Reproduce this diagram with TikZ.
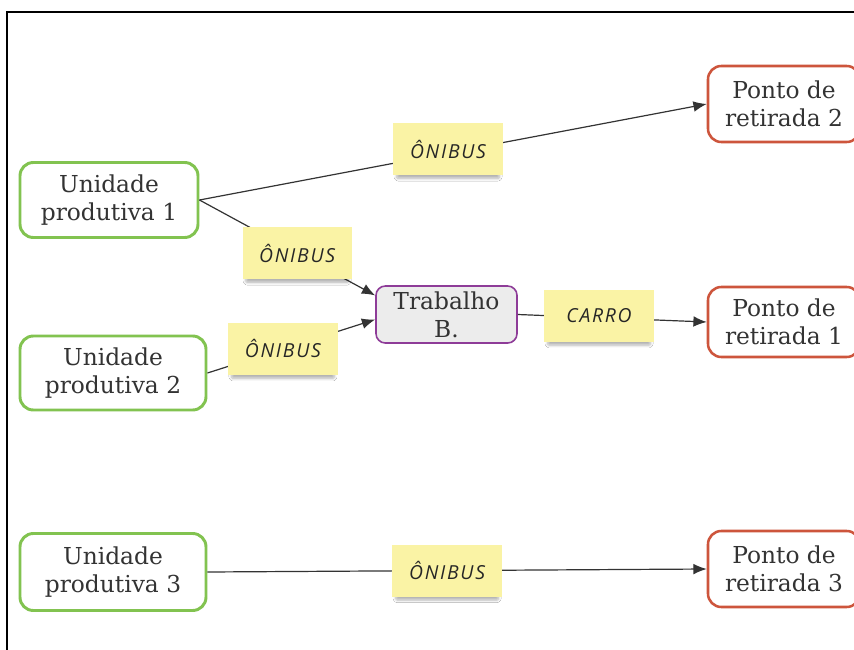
\documentclass[tikz,border=0pt]{standalone}
\usepackage{fontspec}
\setmainfont{DejaVu Serif}
\newfontfamily\notefont{Open Sans}[LetterSpace=9]
\usetikzlibrary{arrows.meta,shadows,shadows.blur}
\definecolor{boxgreen}{HTML}{82C350}
\definecolor{boxred}{HTML}{CD553C}
\definecolor{boxpurple}{HTML}{8E3C98}
\definecolor{trabfill}{HTML}{ECECEC}
\definecolor{notefill}{HTML}{FAF3A5}
\definecolor{txt}{HTML}{333333}
\tikzset{
  box/.style={rectangle, rounded corners=10pt, align=center, text=txt,
    font=\fontsize{17.5}{21}\selectfont, fill=white, inner sep=2pt},
  unit/.style={box, draw=boxgreen, line width=2.2pt},
  ponto/.style={box, draw=boxred, line width=1.9pt, minimum width=114pt},
  trabbox/.style={box, draw=boxpurple, fill=trabfill, line width=1.2pt,
    rounded corners=7pt, minimum width=105.75pt, minimum height=42.75pt},
  note/.style={rectangle, fill=notefill, minimum width=82pt, minimum height=39pt,
    font=\notefont\itshape\fontsize{14.5}{16}\selectfont, text=black!85,
    blur shadow={shadow xshift=0pt, shadow yshift=-4pt, shadow scale=0.94,
      shadow blur steps=6, shadow blur extra rounding=1pt, shadow opacity=30}},
  conn/.style={draw=txt, line width=0.9pt, -{Latex[length=10pt,width=8pt]}},
}
\begin{document}
\begin{tikzpicture}[x=0.75pt,y=-0.75pt]
\useasboundingbox (0,0) rectangle (854,650);
\clip (0,0) rectangle (854,650);
\fill[white] (0,0) rectangle (854,650);
\draw[line width=1.8pt, black] (7,652) -- (7,12) -- (856,12);

\node[unit, minimum width=133.5pt, minimum height=56.25pt] (up1) at (109,200) {Unidade\\produtiva 1};
\node[unit, minimum width=139.5pt, minimum height=55.5pt] (up2) at (113,373) {Unidade\\produtiva 2};
\node[unit, minimum width=139.5pt, minimum height=57.75pt] (up3) at (113,572) {Unidade\\produtiva 3};
\node[ponto, minimum height=57pt] (pr2) at (784,104) {Ponto de\\retirada 2};
\node[ponto, minimum height=52.5pt] (pr1) at (784,322) {Ponto de\\retirada 1};
\node[ponto, minimum height=57pt] (pr3) at (784,569) {Ponto de\\retirada 3};
\node[trabbox] (trab) at (446.5,314.5) {Trabalho\\B.};

\draw[conn] (up1.east) -- node[note, pos=0.49, yshift=3pt] (n1) {ÔNIBUS} (pr2.west);
\draw[conn] (up1.east) -- node[note, pos=0.556] (n2) {ÔNIBUS} (trab.165);
\draw[conn] (up2.east) -- node[note, pos=0.45] (n3) {ÔNIBUS} (trab.184);
\draw[conn] (trab.east) -- node[note, pos=0.43, yshift=1.5pt] (n4) {CARRO} (pr1.west);
\draw[conn] (up3.east) -- node[note, pos=0.48] (n5) {ÔNIBUS} (pr3.west);
\end{tikzpicture}
\end{document}
